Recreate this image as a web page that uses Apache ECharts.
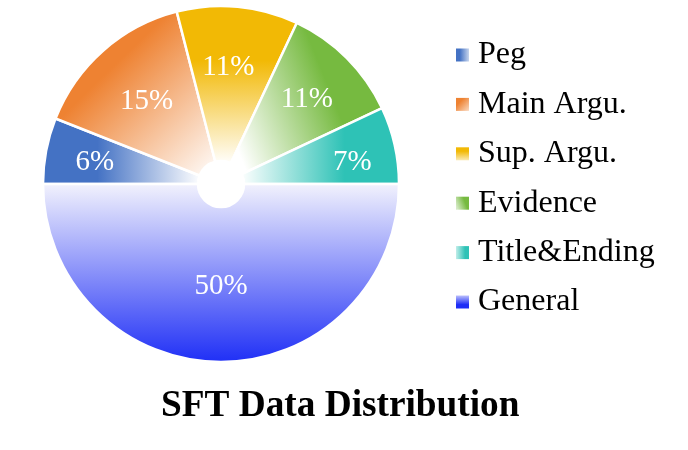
<!DOCTYPE html>
<html>
<head>
<meta charset="utf-8">
<script src="https://cdn.jsdelivr.net/npm/echarts@6/dist/echarts.min.js"></script>
<style>
  html, body { margin: 0; padding: 0; background: #fff; }
  #main { width: 688px; height: 450px; }
</style>
</head>
<body>
<div id="main"></div>
<script>
// data
var categories = ['Peg', 'Main Argu.', 'Sup. Argu.', 'Evidence', 'Title&Ending', 'General'];
var shares = [6, 15, 11, 11, 7, 50];

// style: base colours and gradient direction per slice (outer -> centre)
var baseColors = ['#4472c4', '#ee8232', '#f2b905', '#76ba40', '#2ec2b6', '#1e2ef6'];
var gradDirs = [
	[0, 0, 1, 0],
	[0, 0, 1, 1],
	[0, 0, 0, 1],
	[1, 0.3, 0, 0.7],
	[1, 0, 0, 0],
	[0, 1, 0, 0]
];
// extra radial push of each percentage label (px) and a small nudge
var labelPush = [27, 12, 17, 18, 31, 1];
var labelNudge = [[2, 3], [2, 4], [-4, 3], [0, 1], [0, 8], [0, -2]];

function tint(hex, t) {
	var r = parseInt(hex.slice(1, 3), 16), g = parseInt(hex.slice(3, 5), 16), b = parseInt(hex.slice(5, 7), 16);
	return 'rgb(' + Math.round(r + (255 - r) * t) + ',' + Math.round(g + (255 - g) * t) + ',' + Math.round(b + (255 - b) * t) + ')';
}

function sliceColor(i) {
	var d = gradDirs[i];
	var stops;
	if (i === 5) {
		stops = [{ offset: 0, color: baseColors[i] }, { offset: 1, color: '#f3f3fd' }];
	} else {
		stops = [
			{ offset: 0, color: baseColors[i] },
			{ offset: 0.35, color: baseColors[i] },
			{ offset: 1, color: '#ffffff' }
		];
	}
	return new echarts.graphic.LinearGradient(d[0], d[1], d[2], d[3], stops);
}

function iconColor(i) {
	var d = gradDirs[i];
	return new echarts.graphic.LinearGradient(d[0], d[1], d[2], d[3], [
		{ offset: 0, color: baseColors[i] },
		{ offset: 0.3, color: baseColors[i] },
		{ offset: 1, color: tint(baseColors[i], 0.7) }
	]);
}

var total = shares.reduce(function(a, b) { return a + b; }, 0);
var midAngles = [];
var cum = 0;
shares.forEach(function(v) {
	midAngles.push(Math.PI - 2 * Math.PI * (cum + v / 2) / total);
	cum += v;
});

var pieData = categories.map(function(name, i) {
	return {
		name: name,
		value: shares[i],
		itemStyle: { color: sliceColor(i) }
	};
});

var legendData = categories.map(function(name, i) {
	return { name: name, itemStyle: { color: iconColor(i), borderWidth: 0 } };
});

var chart = echarts.init(document.getElementById('main'));
var option = {
	animation: false,
	title: {
		text: 'SFT Data Distribution',
		left: 156,
		top: 383,
		textStyle: {
			fontFamily: 'Liberation Serif',
			fontWeight: 'bold',
			fontSize: 37.3,
			color: '#000'
		}
	},
	legend: {
		orient: 'vertical',
		left: 456,
		top: 39,
		padding: 0,
		itemWidth: 13,
		itemHeight: 13,
		itemGap: 17.4,
		icon: 'rect',
		itemStyle: { borderWidth: 0 },
		textStyle: {
			fontFamily: 'Liberation Serif',
			fontSize: 32,
			color: '#000',
			padding: [0, 0, 0, 4]
		},
		data: legendData
	},
	series: [{
		type: 'pie',
		center: [221, 184],
		radius: [23, 178],
		startAngle: 180,
		clockwise: true,
		avoidLabelOverlap: false,
		itemStyle: {
			borderColor: '#ffffff',
			borderWidth: 2.5
		},
		label: {
			show: true,
			position: 'inside',
			formatter: '{c}%',
			fontFamily: 'Liberation Serif',
			fontSize: 29,
			color: '#ffffff'
		},
		labelLine: { show: false },
		labelLayout: function(params) {
			var i = params.dataIndex;
			return {
				dx: labelPush[i] * Math.cos(midAngles[i]) + labelNudge[i][0],
				dy: -labelPush[i] * Math.sin(midAngles[i]) + labelNudge[i][1]
			};
		},
		emphasis: { disabled: true },
		data: pieData
	}]
};
chart.setOption(option);
</script>
</body>
</html>
